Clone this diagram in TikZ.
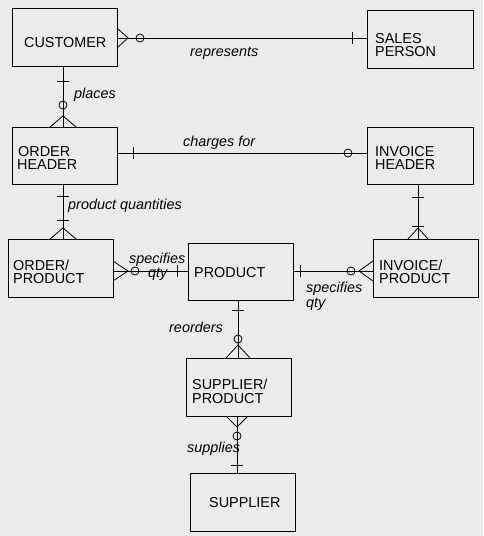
\documentclass[tikz,border=0pt]{standalone}
\usepackage{fontspec}
\setmainfont{Liberation Sans}
\usetikzlibrary{calc}
\definecolor{bg}{RGB}{235,235,235}
\begin{document}
\begin{tikzpicture}[x=1pt,y=-1pt,
  ent/.style={draw, line width=1pt, inner sep=0pt, minimum width=105pt, minimum height=58pt},
  rel/.style={line width=0.8pt},
  txt/.style={font=\fontsize{14.4}{13.3}\selectfont, anchor=base west, inner sep=0pt},
  lbl/.style={font=\fontsize{14.4}{13.3}\selectfont\itshape, anchor=base west, inner sep=0pt}]
\fill[bg] (0,0) rectangle (483,536);
\useasboundingbox (0,0) rectangle (483,536);
% entities
\node[ent] (cust) at (64.5,37) {};
\node[ent, minimum width=106pt] (sales) at (420,39) {};
\node[ent, minimum height=57pt] (ohdr) at (64.5,155.5) {};
\node[ent, minimum width=106pt, minimum height=57pt] (ihdr) at (420,155.5) {};
\node[ent] (oprod) at (60.5,268) {};
\node[ent, minimum height=57pt] (prod) at (240.5,271.5) {};
\node[ent] (iprod) at (425.5,268) {};
\node[ent] (sprod) at (238.5,387) {};
\node[ent] (supp) at (242.5,502) {};
% entity texts
\node[txt] (t1) at (24,47) {CUSTOMER};
\node[txt] (t2a) at (375,43) {SALES};
\node[txt] (t2b) at (375,56) {PERSON};
\node[txt] (t3a) at (18,156) {ORDER};
\node[txt] (t3b) at (17,169) {HEADER};
\node[txt] (t4a) at (375,156) {INVOICE};
\node[txt] (t4b) at (375,169) {HEADER};
\node[txt] (t5a) at (13,270) {ORDER/};
\node[txt] (t5b) at (13,283) {PRODUCT};
\node[txt] (t6) at (194,277) {PRODUCT};
\node[txt] (t7a) at (379,270) {INVOICE/};
\node[txt] (t7b) at (379,283) {PRODUCT};
\node[txt] (t8a) at (192,389) {SUPPLIER/};
\node[txt] (t8b) at (192,403) {PRODUCT};
\node[txt] (t9) at (209,507) {SUPPLIER};
% guide coordinates
\coordinate (h1) at (0,38);
\coordinate (h2) at (0,153);
\coordinate (h3) at (0,271);
\coordinate (v1) at (63,0);
\coordinate (v2) at (418,0);
\coordinate (v3) at (238,0);
\coordinate (v4) at (237,0);
% connectors
\draw[rel] (cust.east |- h1) -- (sales.west |- h1);
\draw[rel] (cust.south -| v1) -- (ohdr.north -| v1);
\draw[rel] (ohdr.east |- h2) -- (ihdr.west |- h2);
\draw[rel] (ohdr.south -| v1) -- (oprod.north -| v1);
\draw[rel] (ihdr.south -| v2) -- (iprod.north -| v2);
\draw[rel] (oprod.east |- h3) -- (prod.west |- h3);
\draw[rel] (prod.east |- h3) -- (iprod.west |- h3);
\draw[rel] (prod.south -| v3) -- (sprod.north -| v3);
\draw[rel] (sprod.south -| v4) -- (supp.north -| v4);
% markers: customer - sales person
\draw[rel] (117,28) -- (128,38) -- (117,48);
\draw[rel] (140,38) circle (4);
\draw[rel] (352,32) -- (352,44);
% customer - order header
\draw[rel] (57,81) -- (69,81);
\draw[rel] (63,105) circle (4);
\draw[rel] (50,127) -- (63,116) -- (76,127);
% order header - invoice header
\draw[rel] (133,147) -- (133,159);
\draw[rel] (348,153) circle (4);
% order header - order/product
\draw[rel] (57,196) -- (69,196);
\draw[rel] (57,220) -- (69,220);
\draw[rel] (50,239) -- (63,228) -- (76,239);
% invoice header - invoice/product
\draw[rel] (412,197) -- (424,197);
\draw[rel] (412,226) -- (424,226);
\draw[rel] (408,239) -- (418,228) -- (428,239);
% order/product - product
\draw[rel] (113,261) -- (128,271) -- (113,281);
\draw[rel] (135,271) circle (4);
\draw[rel] (177,265) -- (177,277);
% product - invoice/product
\draw[rel] (300,265) -- (300,277);
\draw[rel] (351,271) circle (4);
\draw[rel] (373,261) -- (359,271) -- (373,281);
% product - supplier/product
\draw[rel] (232,310) -- (244,310);
\draw[rel] (238,339) circle (4);
\draw[rel] (226,358) -- (238,345) -- (250,358);
% supplier/product - supplier
\draw[rel] (226,416) -- (237,427) -- (248,416);
\draw[rel] (237,436) circle (4);
\draw[rel] (231,465) -- (243,465);
% relationship labels
\node[lbl] (l1) at (190,56) {represents};
\node[lbl] (l2) at (74,98) {places};
\node[lbl] (l3) at (183,146) {charges for};
\node[lbl] (l4) at (68,209) {product quantities};
\node[lbl] (l5a) at (129,263) {specifies};
\node[lbl] (l5b) at (148,277) {qty};
\node[lbl] (l6a) at (306,292) {specifies};
\node[lbl] (l6b) at (306,307) {qty};
\node[lbl] (l7) at (169,332) {reorders};
\node[lbl] (l8) at (187,452) {supplies};
\end{tikzpicture}
\end{document}
